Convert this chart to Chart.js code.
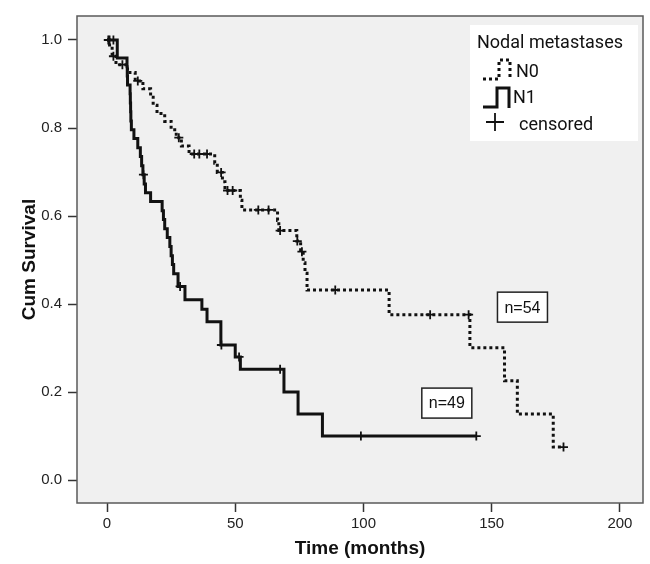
<!DOCTYPE html>
<html>
<head>
<meta charset="utf-8">
<script src="https://cdn.jsdelivr.net/npm/chart.js@4.4.0/dist/chart.umd.min.js"></script>
<style>
  html, body { margin: 0; background: #fff; }
  #wrap { width: 650px; height: 564px; }
</style>
</head>
<body>
<div id="wrap"><canvas id="km"></canvas></div>
<script>
// Kaplan-Meier steps: time (months) and survival after the drop
var n0Times = [0, 1, 2, 3.5, 8, 11, 14, 17, 18, 19.5, 22.5, 25, 27, 29, 32, 42, 43, 45, 46, 52, 52.6, 66.5, 67, 74, 75.5, 76.5, 77.2, 78, 110, 141.5, 155, 160, 174, 178];
var n0Surv  = [1, 0.981, 0.963, 0.944, 0.926, 0.907, 0.889, 0.870, 0.852, 0.833, 0.815, 0.796, 0.778, 0.759, 0.741, 0.720, 0.699, 0.678, 0.658, 0.636, 0.614, 0.590, 0.567, 0.543, 0.519, 0.494, 0.470, 0.432, 0.376, 0.301, 0.226, 0.150, 0.075, 0.075];
var n0Censored = [0.5, 2.5, 6, 12, 28, 34, 36, 39, 44.5, 47, 49, 59, 63, 67.5, 74.2, 76, 89, 126, 141, 178];

var n1Times = [0, 4, 7.8, 7.9, 8, 9, 9.1, 9.2, 9.3, 9.5, 10.5, 12, 13, 13.5, 14, 14.5, 15, 17, 21.5, 22, 22.5, 23.5, 24.5, 25, 25.5, 26, 27.7, 30.4, 37, 39, 44.4, 50, 52, 69, 74.5, 84, 144];
var n1Surv  = [1, 0.959, 0.939, 0.918, 0.898, 0.878, 0.857, 0.837, 0.816, 0.796, 0.776, 0.755, 0.735, 0.714, 0.694, 0.673, 0.653, 0.633, 0.612, 0.592, 0.571, 0.551, 0.531, 0.510, 0.490, 0.469, 0.440, 0.410, 0.388, 0.360, 0.307, 0.280, 0.252, 0.200, 0.150, 0.100, 0.100];
var n1Censored = [1, 2.5, 14.2, 28.5, 44.6, 51.5, 67.5, 99, 144];

var xTicks = [0, 50, 100, 150, 200];
var yTicks = [0.0, 0.2, 0.4, 0.6, 0.8, 1.0];
var groupLabels = ['N0', 'N1'];
var groupCounts = ['n=54', 'n=49'];

function toPoints(times, surv) {
  return times.map(function (t, i) { return { x: t, y: surv[i] }; });
}
// survival level of the step curve at time t (where a censored mark sits)
function levelAt(times, surv, t) {
  var s = surv[0];
  for (var i = 0; i < times.length; i++) { if (times[i] <= t) s = surv[i]; }
  return s;
}
function censorPoints(cens, times, surv) {
  return cens.map(function (t) { return { x: t, y: levelAt(times, surv, t) }; });
}

var FONT = "'Liberation Sans', Arial, sans-serif";

var frame = {
  id: 'frame',
  beforeDatasetsDraw: function (chart) {
    var a = chart.chartArea, ctx = chart.ctx;
    ctx.save();
    ctx.fillStyle = '#f0f0f0';
    ctx.fillRect(a.left, a.top, a.right - a.left, a.bottom - a.top);
    ctx.strokeStyle = '#5a5a5a';
    ctx.lineWidth = 1.5;
    ctx.strokeRect(a.left, a.top, a.right - a.left, a.bottom - a.top);
    ctx.restore();
  },
  afterDraw: function (chart) {
    var ctx = chart.ctx, xs = chart.scales.x, ys = chart.scales.y;
    ctx.save();
    // n= boxes
    function nBox(txt, cx, cy) {
      ctx.font = '16px ' + FONT;
      ctx.fillStyle = '#fff';
      ctx.fillRect(cx - 25, cy - 15, 50, 30);
      ctx.strokeStyle = '#222';
      ctx.lineWidth = 1.5;
      ctx.strokeRect(cx - 25, cy - 15, 50, 30);
      ctx.fillStyle = '#111';
      ctx.textAlign = 'center';
      ctx.textBaseline = 'middle';
      ctx.fillText(txt, cx, cy + 1);
    }
    nBox(groupCounts[0], xs.getPixelForValue(162), ys.getPixelForValue(0.393));
    nBox(groupCounts[1], xs.getPixelForValue(132.5), ys.getPixelForValue(0.175));

    // legend box
    ctx.fillStyle = '#fff';
    ctx.fillRect(470, 25, 168, 116);
    ctx.fillStyle = '#111';
    ctx.textAlign = 'left';
    ctx.textBaseline = 'middle';
    ctx.font = '18px Roboto, ' + FONT;
    ctx.fillText('Nodal metastases', 477, 43);
    ctx.fillText(groupLabels[0], 516, 72);
    ctx.fillText(groupLabels[1], 513, 98);
    ctx.fillText('censored', 519, 125);
    // N0 icon (dotted step)
    ctx.strokeStyle = '#111';
    ctx.lineWidth = 3;
    ctx.setLineDash([3, 3]);
    ctx.beginPath();
    ctx.moveTo(483, 79); ctx.lineTo(499, 79); ctx.lineTo(499, 60);
    ctx.lineTo(510, 60); ctx.lineTo(510, 80);
    ctx.stroke();
    // N1 icon (solid step)
    ctx.setLineDash([]);
    ctx.beginPath();
    ctx.moveTo(483, 107); ctx.lineTo(497, 107); ctx.lineTo(497, 88);
    ctx.lineTo(509, 88); ctx.lineTo(509, 108);
    ctx.stroke();
    // censored cross
    ctx.lineWidth = 1.8;
    ctx.beginPath();
    ctx.moveTo(486, 122); ctx.lineTo(504, 122);
    ctx.moveTo(495, 113); ctx.lineTo(495, 131);
    ctx.stroke();
    ctx.restore();
  }
};

var ctx = document.getElementById('km').getContext('2d');

new Chart(ctx, {
  type: 'line',
  data: {
    datasets: [
      {
        label: groupLabels[0],
        data: toPoints(n0Times, n0Surv),
        stepped: 'before',
        borderColor: '#111',
        borderWidth: 3,
        borderDash: [3, 3],
        borderCapStyle: 'butt',
        pointRadius: 0,
        fill: false
      },
      {
        label: groupLabels[1],
        data: toPoints(n1Times, n1Surv),
        stepped: 'before',
        borderColor: '#111',
        borderWidth: 3,
        pointRadius: 0,
        fill: false
      },
      {
        label: 'N0 censored',
        data: censorPoints(n0Censored, n0Times, n0Surv),
        showLine: false,
        pointStyle: 'cross',
        pointRadius: 4.5,
        pointBorderWidth: 1.8,
        pointBorderColor: '#111'
      },
      {
        label: 'N1 censored',
        data: censorPoints(n1Censored, n1Times, n1Surv),
        showLine: false,
        pointStyle: 'cross',
        pointRadius: 4.5,
        pointBorderWidth: 1.8,
        pointBorderColor: '#111'
      }
    ]
  },
  options: {
    responsive: true,
    maintainAspectRatio: false,
    animation: false,
    layout: { padding: { top: 16, right: 7, left: 0, bottom: 0 } },
    plugins: {
      legend: { display: false },
      tooltip: { enabled: false }
    },
    scales: {
      x: {
        type: 'linear',
        min: -11.7,
        max: 209,
        afterFit: function (s) { s.height = 61; },
        afterBuildTicks: function (s) { s.ticks = xTicks.map(function (v) { return { value: v }; }); },
        grid: { display: true, drawOnChartArea: false, drawTicks: true, tickLength: 9, tickColor: '#333', tickWidth: 1.5 },
        border: { display: false },
        ticks: { padding: 3, color: '#222', font: { family: FONT, size: 15 } },
        title: { display: true, text: 'Time (months)', color: '#111', font: { family: FONT, size: 19, weight: 'bold' }, padding: { top: 0, bottom: 4 } }
      },
      y: {
        type: 'linear',
        min: -0.052,
        max: 1.0545,
        afterFit: function (s) { s.width = 77; },
        afterBuildTicks: function (s) { s.ticks = yTicks.map(function (v) { return { value: v }; }); },
        grid: { display: true, drawOnChartArea: false, drawTicks: true, tickLength: 9, tickColor: '#333', tickWidth: 1.5 },
        border: { display: false },
        ticks: { padding: 6, color: '#222', font: { family: FONT, size: 15 }, callback: function (v) { return Number(v).toFixed(1); } },
        title: { display: true, text: 'Cum Survival', color: '#111', font: { family: FONT, size: 19, weight: 'bold' }, padding: { top: 18, bottom: 0 } }
      }
    }
  },
  plugins: [frame]
});
</script>
</body>
</html>
